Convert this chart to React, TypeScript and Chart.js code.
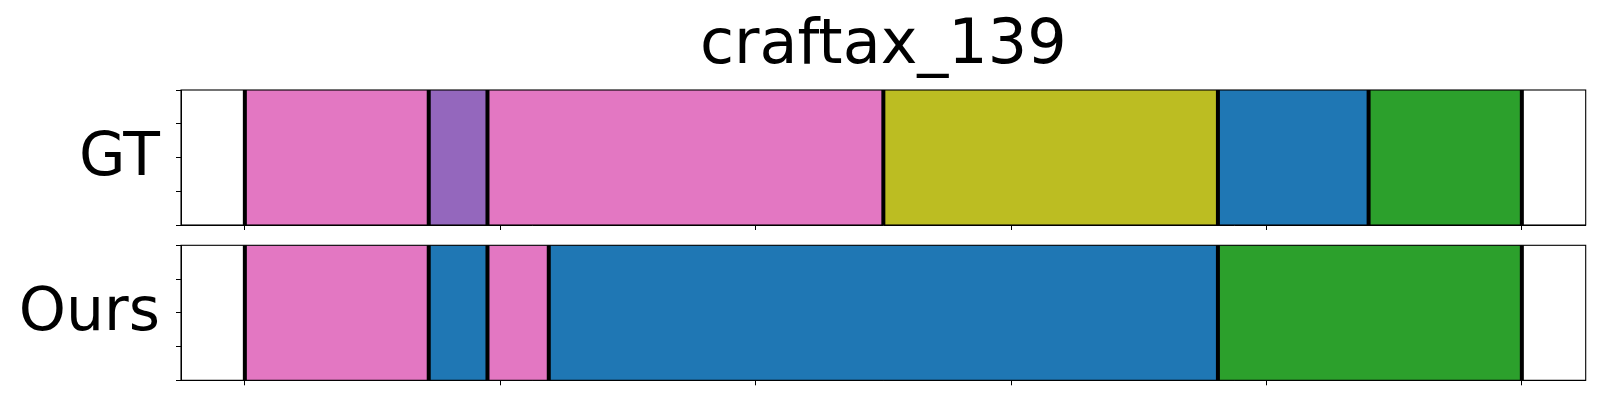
import React, { useEffect, useRef } from "react";
import { Chart, registerables } from "chart.js";

Chart.register(...registerables);

const TITLE = "craftax_139";
const X_MAX = 500;
const X_TICKS = [0, 100, 200, 300, 400, 500];
const Y_TICKS = [0, 0.25, 0.5, 0.75, 1];

const GT_LABEL = "GT";
const GT_STARTS = [0, 72, 95, 250, 381, 440];
const GT_ENDS = [72, 95, 250, 381, 440, 500];
const GT_COLORS = ["#e377c2", "#9467bd", "#e377c2", "#bcbd22", "#1f77b4", "#2ca02c"];

const OURS_LABEL = "Ours";
const OURS_STARTS = [0, 72, 95, 119, 381];
const OURS_ENDS = [72, 95, 119, 381, 500];
const OURS_COLORS = ["#e377c2", "#1f77b4", "#e377c2", "#1f77b4", "#2ca02c"];

const FONT = "'DejaVu Sans', sans-serif";

const decorPlugin = {
  id: "decor",
  afterDatasetsDraw(chart: any, _args: any, opts: any) {
    const { ctx, chartArea: a, scales } = chart;
    const x = scales.x;
    ctx.save();
    ctx.strokeStyle = "#000";
    ctx.lineWidth = 4;
    (opts.bounds || []).forEach((b: number) => {
      const px = x.getPixelForValue(b);
      ctx.beginPath();
      ctx.moveTo(px, a.top);
      ctx.lineTo(px, a.bottom);
      ctx.stroke();
    });
    ctx.restore();
  },
  afterDraw(chart: any, _args: any, opts: any) {
    const { ctx, chartArea: a, scales } = chart;
    ctx.save();
    ctx.strokeStyle = "#000";
    ctx.lineWidth = 1.1;
    ctx.strokeRect(a.left, a.top, a.right - a.left, a.bottom - a.top);
    ctx.fillStyle = "#000";
    if (opts.label) {
      const yc = scales.y.getPixelForValue(0.5);
      ctx.font = `60px ${FONT}`;
      ctx.textAlign = "right";
      ctx.textBaseline = "alphabetic";
      ctx.fillText(opts.label, 160, yc + 17);
    }
    if (opts.title) {
      ctx.font = `62px ${FONT}`;
      ctx.textAlign = "center";
      ctx.textBaseline = "alphabetic";
      ctx.fillText(opts.title, (a.left + a.right) / 2, 63);
    }
    ctx.restore();
  },
};

type PanelProps = {
  starts: number[];
  ends: number[];
  colors: string[];
  label: string;
  title?: string;
  height: number;
  padTop: number;
  padBottom: number;
};

function Panel({ starts, ends, colors, label, title, height, padTop, padBottom }: PanelProps) {
  const ref = useRef<HTMLCanvasElement | null>(null);
  useEffect(() => {
    if (!ref.current) return;
    const bounds = Array.from(new Set([...starts, ...ends]));
    const chart = new Chart(ref.current, {
      type: "bar",
      data: {
        datasets: [
          {
            data: starts.map((s, i) => ({ x: [s, ends[i]], y: 0.5 })) as any,
            backgroundColor: colors,
            borderWidth: 0,
            barThickness: 135,
          } as any,
        ],
      },
      plugins: [decorPlugin as any],
      options: {
        indexAxis: "y",
        responsive: false,
        maintainAspectRatio: false,
        animation: false,
        events: [],
        layout: { padding: { left: 141, right: 14.3, top: padTop, bottom: padBottom } },
        scales: {
          x: {
            type: "linear",
            position: "bottom",
            offset: false,
            min: -0.05 * X_MAX,
            max: 1.05 * X_MAX,
            ticks: { display: false },
            afterBuildTicks: (s: any) => { s.ticks = X_TICKS.map((v) => ({ value: v })); },
            grid: { display: true, offset: false, drawOnChartArea: false, drawTicks: true, tickLength: 5, color: "#000", lineWidth: 1 },
            border: { display: true, color: "#000", width: 1 },
            afterFit: (s: any) => { s.height = 10; },
          },
          y: {
            type: "linear",
            position: "left",
            offset: false,
            min: 0,
            max: 1,
            ticks: { display: false },
            afterBuildTicks: (s: any) => { s.ticks = Y_TICKS.map((v) => ({ value: v })); },
            grid: { display: true, offset: false, drawOnChartArea: false, drawTicks: true, tickLength: 5, color: "#000", lineWidth: 1 },
            border: { display: true, color: "#000", width: 1 },
            afterFit: (s: any) => { s.width = 40; },
          },
        },
        plugins: {
          legend: { display: false },
          tooltip: { enabled: false },
          title: { display: false },
          decor: { bounds, label, title },
        } as any,
      },
    });
    return () => chart.destroy();
  }, []);
  return <canvas ref={ref} width={1600} height={height} style={{ display: "block", width: 1600, height }} />;
}

export default function App() {
  return (
    <div style={{ position: "fixed", left: 0, top: 0, width: 1600, height: 400, background: "#fff" }}>
      <Panel starts={GT_STARTS} ends={GT_ENDS} colors={GT_COLORS} label={GT_LABEL} title={TITLE} height={240} padTop={90} padBottom={5} />
      <Panel starts={OURS_STARTS} ends={OURS_ENDS} colors={OURS_COLORS} label={OURS_LABEL} height={160} padTop={5.3} padBottom={9.7} />
    </div>
  );
}
